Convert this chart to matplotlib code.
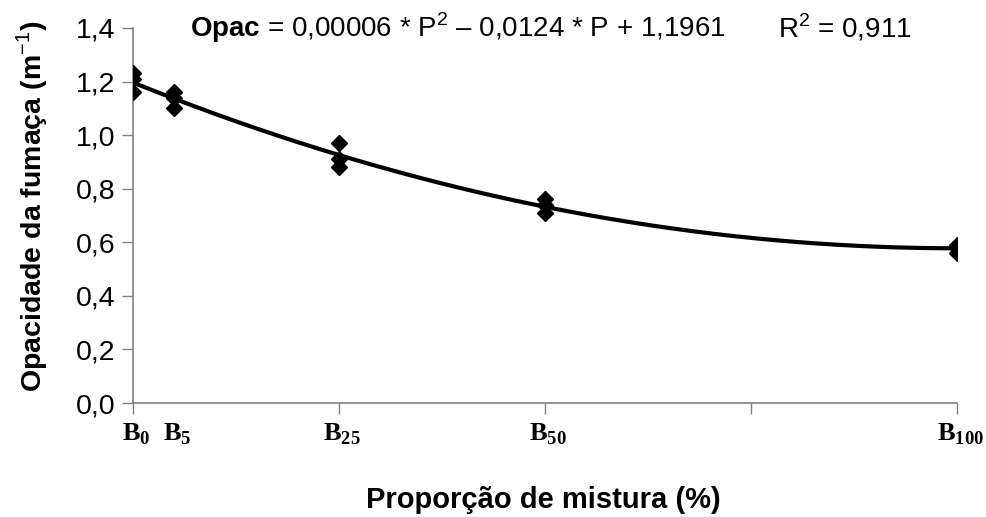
import numpy as np
import matplotlib.pyplot as plt

plt.rcParams['font.family'] = ['Liberation Sans', 'DejaVu Sans']
plt.rcParams['mathtext.fontset'] = 'custom'
plt.rcParams['mathtext.rm'] = 'Liberation Sans'
plt.rcParams['mathtext.sf'] = 'Liberation Sans:bold'
plt.rcParams['mathtext.bf'] = 'Liberation Serif:bold'

# Observed smoke opacity per blend proportion (3 reps each)
proportion = [0, 0, 0, 5, 5, 5, 25, 25, 25, 50, 50, 50, 100, 100, 100]
opacity = [1.23, 1.21, 1.16, 1.16, 1.14, 1.10, 0.97, 0.91, 0.88,
           0.76, 0.74, 0.71, 0.59, 0.58, 0.56]

blend_pos = [0, 5, 25, 50, 100]
blend_labels = [r'$\mathbf{B}_{\mathbf{0}}$', r'$\mathbf{B}_{\mathbf{5}}$',
                r'$\mathbf{B}_{\mathbf{25}}$', r'$\mathbf{B}_{\mathbf{50}}$',
                r'$\mathbf{B}_{\mathbf{100}}$']
y_ticks = [0.0, 0.2, 0.4, 0.6, 0.8, 1.0, 1.2, 1.4]

# quadratic trend
coef = np.polyfit(proportion, opacity, 2)
xs = np.linspace(0, 100, 200)

fig = plt.figure(figsize=(9.86, 5.17), dpi=100)
ax = fig.add_axes([0.135, 0.2205, 0.836, 0.7255])

ax.plot(xs, np.polyval(coef, xs), color='black', lw=3, zorder=2)
ax.plot(proportion, opacity, 'D', color='black', ms=8, zorder=3)

ax.set_xlim(0, 100)
ax.set_ylim(0, 1.4)
ax.set_yticks(y_ticks)
ax.set_yticklabels([f'{v:.1f}'.replace('.', ',') for v in y_ticks], fontsize=20.5)
ax.set_xticks([0, 25, 50, 75, 100])
ax.set_xticklabels([])
ax.tick_params(axis='both', which='major', length=8, width=1, color='#808080',
               direction='out', pad=5)

# blend labels under the axis
for xp, lab in zip(blend_pos, blend_labels):
    ax.annotate(lab, xy=(xp, 0), xycoords=('data', 'axes fraction'),
                xytext=(2, -13), textcoords='offset points',
                ha='center', va='top', fontsize=19)

for s in ['top', 'right']:
    ax.spines[s].set_visible(False)
for s in ['left', 'bottom']:
    ax.spines[s].set_color('#808080')
    ax.spines[s].set_linewidth(1.2)

fig.text(0.033, 0.60, 'Opacidade da fumaça (m$^{-1}$)', fontsize=20.5, fontweight='bold',
         rotation=90, ha='center', va='center')
fig.text(0.551, 0.018, 'Proporção de mistura (%)', fontsize=21, fontweight='bold',
         ha='center', va='baseline')

fig.text(0.193, 0.928, r'$\mathsf{Opac}$ = 0,00006 * P$^{2}$ – 0,0124 * P + 1,1961',
         fontsize=20, va='baseline')
fig.text(0.925, 0.928, r'R$^{2}$ = 0,911', fontsize=20, ha='right', va='baseline')

plt.savefig('out.png', dpi=100)
